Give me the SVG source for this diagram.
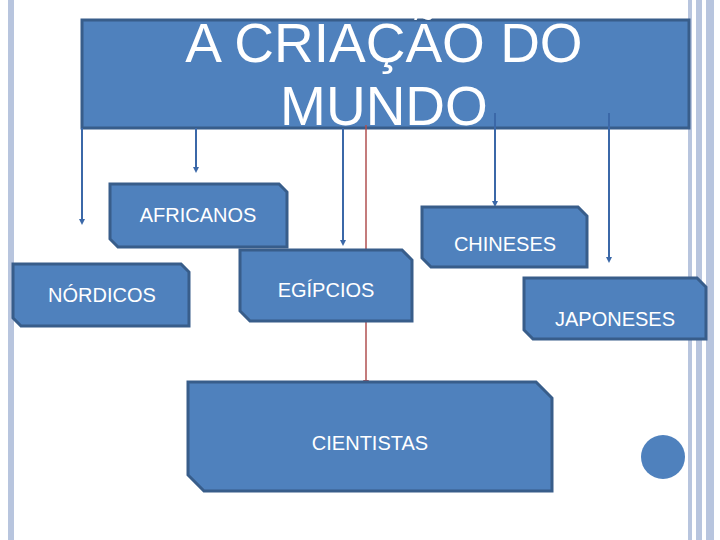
<svg xmlns="http://www.w3.org/2000/svg" width="720" height="540" viewBox="0 0 720 540">
<style>
.n{fill:#4f81bd;stroke:#385d8a;stroke-width:3}
.t{fill:#fff;font-family:"Liberation Sans",Arial,sans-serif;text-anchor:middle}
.c{stroke:#3b68a8;stroke-width:2;fill:none}
.r{stroke:#b05050;stroke-width:1.5;fill:none}
</style>
<defs>
<marker id="a" markerWidth="6" markerHeight="6" refX="3" refY="3" orient="auto" markerUnits="userSpaceOnUse"><path d="M0,0L6,3L0,6z" fill="#3b68a8"/></marker>
<marker id="ar" markerWidth="6" markerHeight="6" refX="3" refY="3" orient="auto" markerUnits="userSpaceOnUse"><path d="M0,0L6,3L0,6z" fill="#b05050"/></marker>
</defs>
<rect width="720" height="540" fill="#fff"/>
<rect x="8" y="0" width="6" height="540" fill="#b8c5de"/>
<rect x="688" y="0" width="4" height="540" fill="#b8c5de"/>
<rect x="696" y="0" width="6" height="540" fill="#b8c5de"/>
<rect x="706" y="0" width="8" height="540" fill="#b8c5de"/>
<g id="title"><rect class="n" x="82" y="20" width="607" height="108"/>
<text class="t" x="384" y="62" font-size="55">A CRIAÇÃO DO</text>
<text class="t" x="384" y="125" font-size="55">MUNDO</text></g>
<g id="connectors">
<line class="c" x1="82" y1="128" x2="82" y2="222" marker-end="url(#a)"/>
<line class="c" x1="196" y1="128" x2="196" y2="170" marker-end="url(#a)"/>
<line class="c" x1="343" y1="128" x2="343" y2="243" marker-end="url(#a)"/>
<line class="r" x1="366" y1="125" x2="366" y2="383" marker-end="url(#ar)"/>
<line class="c" x1="495" y1="113" x2="495" y2="204" marker-end="url(#a)"/>
<line class="c" x1="609" y1="113" x2="609" y2="260" marker-end="url(#a)"/>
</g>
<g id="africanos"><path class="n" d="M110,184H279L287,192V247H118L110,239Z"/><text class="t" x="198" y="222" font-size="20">AFRICANOS</text></g>
<g id="nordicos"><path class="n" d="M13,264H181L189,272V326H21L13,318Z"/><text class="t" x="102" y="302" font-size="20">NÓRDICOS</text></g>
<g id="egipcios"><path class="n" d="M240,250H402L412,260V321H250L240,311Z"/><text class="t" x="326" y="297" font-size="20">EGÍPCIOS</text></g>
<g id="chineses"><path class="n" d="M422,207H578L587,216V267H431L422,258Z"/><text class="t" x="505" y="251" font-size="20">CHINESES</text></g>
<g id="japoneses"><path class="n" d="M524,278H697L706,287V339H533L524,330Z"/><text class="t" x="615" y="326" font-size="20">JAPONESES</text></g>
<g id="cientistas"><path class="n" d="M188,382H536L552,398V491H204L188,475Z"/><text class="t" x="370" y="450" font-size="20">CIENTISTAS</text></g>
<circle cx="663" cy="457" r="22" fill="#4f81bd"/>
</svg>
